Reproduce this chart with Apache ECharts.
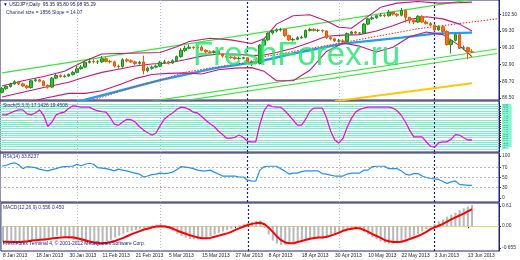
<!DOCTYPE html>
<html><head><meta charset="utf-8">
<script src="https://cdn.jsdelivr.net/npm/echarts@6/dist/echarts.min.js"></script>
<style>html,body{margin:0;padding:0;background:#fff}#c{width:520px;height:260px}</style>
</head><body><div id="c"></div>
<script>
const dates = ['8 Jan 2013','9 Jan 2013','10 Jan 2013','11 Jan 2013','14 Jan 2013','15 Jan 2013','16 Jan 2013','17 Jan 2013','18 Jan 2013','21 Jan 2013','22 Jan 2013','23 Jan 2013','24 Jan 2013','25 Jan 2013','28 Jan 2013','29 Jan 2013','30 Jan 2013','31 Jan 2013','1 Feb 2013','4 Feb 2013','5 Feb 2013','6 Feb 2013','7 Feb 2013','8 Feb 2013','11 Feb 2013','12 Feb 2013','13 Feb 2013','14 Feb 2013','15 Feb 2013','18 Feb 2013','19 Feb 2013','20 Feb 2013','21 Feb 2013','22 Feb 2013','25 Feb 2013','26 Feb 2013','27 Feb 2013','28 Feb 2013','1 Mar 2013','4 Mar 2013','5 Mar 2013','6 Mar 2013','7 Mar 2013','8 Mar 2013','11 Mar 2013','12 Mar 2013','13 Mar 2013','14 Mar 2013','15 Mar 2013','18 Mar 2013','19 Mar 2013','20 Mar 2013','21 Mar 2013','22 Mar 2013','25 Mar 2013','26 Mar 2013','27 Mar 2013','28 Mar 2013','29 Mar 2013','1 Apr 2013','2 Apr 2013','3 Apr 2013','4 Apr 2013','5 Apr 2013','8 Apr 2013','9 Apr 2013','10 Apr 2013','11 Apr 2013','12 Apr 2013','15 Apr 2013','16 Apr 2013','17 Apr 2013','18 Apr 2013','19 Apr 2013','22 Apr 2013','23 Apr 2013','24 Apr 2013','25 Apr 2013','26 Apr 2013','29 Apr 2013','30 Apr 2013','1 May 2013','2 May 2013','3 May 2013','6 May 2013','7 May 2013','8 May 2013','9 May 2013','10 May 2013','13 May 2013','14 May 2013','15 May 2013','16 May 2013','17 May 2013','20 May 2013','21 May 2013','22 May 2013','23 May 2013','24 May 2013','27 May 2013','28 May 2013','29 May 2013','30 May 2013','31 May 2013','3 Jun 2013','4 Jun 2013','5 Jun 2013','6 Jun 2013','7 Jun 2013','10 Jun 2013','11 Jun 2013','12 Jun 2013','13 Jun 2013','14 Jun 2013'];

const openP = [87.6,88.3,88.7,89.2,89.6,89.2,88.8,88.5,89.8,90.0,
89.7,88.9,88.6,90.3,90.8,90.6,90.7,91.0,91.4,92.1,
92.4,93.3,93.5,93.4,93.4,94.0,93.5,93.4,92.6,92.5,
93.8,93.6,93.4,93.1,93.4,91.7,92.2,92.4,92.6,93.3,
93.4,93.2,93.6,94.4,95.6,96.0,96.2,96.1,96.2,95.6,
95.3,95.2,95.4,94.9,94.5,94.3,94.2,94.0,94.1,94.2,
93.2,93.4,93.1,96.6,97.6,98.9,99.3,99.5,99.6,98.4,
97.6,97.7,98.0,98.1,99.4,99.6,99.4,99.4,99.3,98.0,
97.8,97.4,97.4,97.3,98.8,99.1,98.9,98.9,100.6,101.6,
101.8,102.2,102.3,102.2,102.9,102.5,102.3,103.2,101.9,101.3,
101.0,102.1,101.0,100.7,100.4,99.5,100.1,99.2,96.7,97.5,
98.6,96.0,96.1,95.35];
const highP = [88.6,89.0,89.4,89.9,89.7,89.4,89.0,90.0,90.3,90.2,
89.9,89.1,90.5,91.1,91.0,91.0,91.2,91.7,92.6,92.8,
93.5,94.0,93.9,93.7,94.5,94.4,93.8,93.6,92.9,94.1,
94.1,93.9,93.6,93.6,94.6,92.5,92.7,92.9,93.6,93.8,
93.6,93.9,94.6,96.0,96.5,96.7,96.4,96.4,96.5,95.8,
95.6,95.6,95.6,95.1,94.9,94.5,94.5,94.4,94.4,94.3,
93.6,93.7,96.8,97.8,99.0,99.4,99.8,99.9,99.7,98.6,
98.0,98.3,98.4,99.6,99.9,99.8,99.7,99.6,99.4,98.3,
98.0,97.8,97.7,99.0,99.3,99.3,99.1,100.8,101.8,102.1,
102.4,102.7,102.6,103.3,103.0,102.7,103.7,103.4,102.0,101.5,
102.3,102.3,101.3,101.0,100.6,100.4,100.3,99.4,97.8,98.8,
98.8,96.5,96.3,95.80];
const lowP = [87.4,88.1,88.5,89.0,89.0,88.6,88.2,88.3,89.6,89.5,
88.7,88.3,88.4,90.1,90.4,90.4,90.5,90.8,91.2,91.9,
92.2,93.1,93.1,93.0,93.2,93.3,93.1,92.3,92.1,92.3,
93.3,93.2,92.8,92.9,91.0,91.4,91.9,92.2,92.4,93.0,
92.9,93.0,93.4,94.2,95.3,95.8,95.8,95.8,95.4,95.0,
94.9,95.0,94.7,94.2,94.0,94.0,93.8,93.8,93.9,93.0,
92.6,92.9,92.9,96.2,97.4,98.6,99.0,99.2,98.2,97.4,
97.3,97.5,97.8,97.9,99.2,99.2,99.1,99.0,97.8,97.5,
97.2,97.1,97.0,97.1,98.6,98.6,98.6,98.8,100.4,101.4,
101.6,102.0,101.9,102.0,102.2,102.0,102.1,100.9,100.7,100.6,
100.8,100.8,100.5,100.2,99.3,99.3,98.9,96.5,95.0,97.3,
95.9,95.7,93.9,95.08];
const closeP = [88.3,88.7,89.2,89.6,89.2,88.8,88.5,89.8,90.0,89.7,
88.9,88.6,90.3,90.8,90.6,90.7,91.0,91.4,92.1,92.4,
93.3,93.5,93.4,93.4,94.0,93.5,93.4,92.6,92.5,93.8,
93.6,93.4,93.1,93.3,91.7,92.2,92.4,92.6,93.3,93.4,
93.2,93.6,94.4,95.6,96.0,96.2,96.1,96.2,95.6,95.3,
95.2,95.4,94.9,94.5,94.3,94.2,94.0,94.1,94.2,93.2,
93.4,93.1,96.6,97.6,98.9,99.3,99.5,99.6,98.4,97.6,
97.7,98.0,98.1,99.4,99.6,99.4,99.4,99.3,98.0,97.8,
97.4,97.4,97.3,98.8,99.1,98.9,98.9,100.6,101.6,101.8,
102.2,102.3,102.2,102.9,102.5,102.3,103.2,101.9,101.3,101.0,
102.1,101.0,100.7,100.4,99.5,100.1,99.2,96.7,97.5,98.6,
96.0,96.1,95.3,95.29];

// overlay lines: [bar index, price]
const bbUpper = [[0,88.8],[5,89.8],[10,90.6],[15,91.6],[20,93.6],[24,94.9],[28,95.0],[33,95.1],[38,95.2],[42,96.3],[45,97.3],[50,97.9],[55,97.6],[60,96.9],[63,97.8],[66,100.6],[70,102.2],[74,102.4],[78,101.2],[81,100.0],[84,99.8],[87,101.5],[91,103.8],[95,104.6],[100,104.9],[105,104.6],[110,104.7],[113,104.8]];
const bbMiddle = [[0,86.7],[5,87.6],[10,88.5],[16,89.5],[20,90.5],[24,91.4],[28,92.0],[32,92.6],[36,93.0],[40,93.2],[44,93.8],[48,94.5],[52,94.9],[56,94.9],[60,94.6],[63,94.7],[66,95.2],[70,96.0],[74,97.1],[78,98.3],[82,98.5],[86,98.6],[90,99.3],[94,100.3],[98,101.5],[102,102.0],[106,101.6],[110,100.6],[113,99.3]];
const bbLower = [[0,84.6],[5,85.4],[10,86.4],[16,87.4],[20,87.4],[24,87.9],[28,89.0],[32,90.2],[36,91.0],[40,91.2],[44,91.3],[48,91.1],[52,91.9],[56,92.2],[60,92.3],[63,91.6],[66,89.8],[70,89.8],[74,91.8],[78,95.4],[82,97.0],[86,96.4],[90,95.3],[94,96.2],[98,98.2],[102,99.1],[106,98.6],[110,96.5],[113,94.4]];
const chanTop = [[0,91.29],[119,106.05]];
const chanBottom = [[30,85.19],[119,95.85]];
const chanBottom2 = [[30,84.34],[119,95.0]];
const yellowLine = [[80,85.9],[113,89.34]];
const blueMA = [[18,85.75],[38,89.91],[51,92.17],[62,93.5],[70,95.0],[82,96.89],[96,98.03],[104,98.78],[113,98.97]];
const redDotted = [[22,86.13],[33,88.96],[38,89.91],[44,91.42],[51,92.36],[59,93.31],[62,94.25],[82,97.08],[100,99.72],[119,101.61]];

const stoch = [76,76,80,84,87,87,78,76,80,87,
75,50,60,76,80,82,90,96,95,93,
93,93,88,85,83,82,70,55,53,60,
66,65,60,50,42,36,31,35,52,66,
74,80,88,93,92,88,82,80,72,64,
56,50,40,32,24,24,26,31,26,17,
16,16,55,85,98,94,93,93,85,75,
64,53,53,66,84,91,91,91,70,40,
20,13,24,49,68,82,88,91,93,93,
93,93,93,93,91,85,75,60,42,27,
27,27,16,6,4,14,16,16,22,32,
31,25,20,20];
const rsi = [73,75,78,80,76,68,72,71,70,67,
65,63.5,66,68,71,72,73,73,77,74,
77,79,77,70,69,68,66,63.5,67,65,
63.5,61,59,57,51,53,56,57,59,58,
59,61,66,72,71,70,68,65,63.5,63.5,
65,61,57,53,53,53,53,51,51,44.5,
43,42.4,65,72,73,73,73,68,63,57,
59,59,62,63.5,63.5,63.5,63.5,58,57,55,
53,53,53,57,59,59,59,65,65,72,
73,73,73,68,68,68,63.5,57,55,58,
58,53,50,48,47,46,42,38,41,43,
36,35,34,33.8];
const macdMain = [-0.42,-0.43,-0.43,-0.42,-0.40,-0.41,-0.40,-0.38,-0.36,-0.37,
-0.38,-0.35,-0.28,-0.25,-0.26,-0.28,-0.33,-0.36,-0.38,-0.40,
-0.43,-0.45,-0.46,-0.45,-0.43,-0.40,-0.36,-0.30,-0.25,-0.20,
-0.16,-0.13,-0.10,-0.07,-0.05,-0.03,0.02,0.04,0.05,0.02,
-0.06,-0.12,-0.20,-0.26,-0.30,-0.34,-0.35,-0.35,-0.33,-0.30,
-0.26,-0.22,-0.18,-0.14,-0.10,-0.07,-0.02,0.02,0.05,0.08,
0.11,0.14,0.15,-0.05,-0.22,-0.38,-0.46,-0.50,-0.49,-0.46,
-0.43,-0.40,-0.36,-0.33,-0.31,-0.30,-0.31,-0.33,-0.31,-0.27,
-0.22,-0.17,-0.12,-0.08,-0.06,-0.05,-0.06,-0.15,-0.22,-0.29,
-0.35,-0.40,-0.44,-0.46,-0.46,-0.45,-0.42,-0.36,-0.30,-0.25,
-0.20,-0.14,-0.08,-0.04,0.06,0.12,0.17,0.25,0.30,0.35,
0.42,0.47,0.52,0.556];
const macdSignal = [-0.41,-0.41,-0.42,-0.42,-0.42,-0.41,-0.40,-0.38,-0.37,-0.36,
-0.35,-0.34,-0.32,-0.31,-0.30,-0.29,-0.29,-0.30,-0.32,-0.35,
-0.38,-0.41,-0.43,-0.45,-0.45,-0.44,-0.42,-0.39,-0.35,-0.31,
-0.26,-0.21,-0.17,-0.13,-0.09,-0.06,-0.03,-0.01,0.00,-0.01,
-0.03,-0.07,-0.12,-0.16,-0.20,-0.24,-0.27,-0.30,-0.32,-0.32,
-0.31,-0.28,-0.25,-0.22,-0.19,-0.15,-0.10,-0.05,-0.01,0.03,
0.06,0.08,0.09,0.05,-0.04,-0.15,-0.27,-0.37,-0.43,-0.45,
-0.45,-0.42,-0.39,-0.36,-0.33,-0.31,-0.30,-0.30,-0.28,-0.25,
-0.21,-0.17,-0.12,-0.09,-0.07,-0.05,-0.06,-0.10,-0.15,-0.21,
-0.26,-0.31,-0.37,-0.40,-0.42,-0.42,-0.41,-0.38,-0.34,-0.30,
-0.26,-0.21,-0.15,-0.08,-0.03,0.01,0.06,0.12,0.18,0.23,
0.28,0.33,0.39,0.45];

const priceTicks = [102.5, 99.3, 96.1, 92.9, 89.7, 86.5];
const stochLevels = [0,5,10,15,20,25,30,35,40,45,50,55,60,65,70,75,80,85,90,95,100];
const rsiLevels = [70, 50, 30];
const rsiTickLabels = {94:'100', 70:'70', 50:'50', 30:'30', 8:'0'};
const macdTickLabels = {0.53:'0.61', 0:'0.00', '-0.58':'-0.655'};
const lastPrice = 95.29;
const dottedSeps = [18, 38, 81];
const dashedSeps = [59, 104];

const cats = dates.concat(['_a','_b','_c','_d','_e','_f']);
const NAVY = '#24246e';
const FF = '"Liberation Sans", Arial, sans-serif';
const FS = 4.9;

const gridPos = [
  {top:-1, height:101},
  {top:101, height:51},
  {top:153, height:49},
  {top:203, height:48}
];
const grid = gridPos.map(g => ({left:0, right:21, top:g.top, height:g.height, show:true, borderColor:NAVY, borderWidth:1, backgroundColor:'transparent'}));

const xAxis = gridPos.map((g,i) => ({
  type:'category', gridIndex:i, data:cats, boundaryGap:true,
  axisLine:{show:i===3, lineStyle:{color:NAVY}},
  axisTick:{show:i===3, interval:7, alignWithLabel:true, length:2, lineStyle:{color:NAVY}},
  axisLabel:{show:i===3, interval:7, align:'left', fontSize:FS, fontFamily:FF, color:'#1c1c3c', margin:2,
    formatter: v => v.charAt(0)==='_' ? '' : v},
  splitLine:{show:false}
}));

function yAx(i, min, max, vals, fmt) {
  return {
    type:'value', gridIndex:i, position:'right', min:min, max:max,
    splitLine:{show:false},
    axisLine:{show:true, lineStyle:{color:NAVY}},
    axisTick:{show:true, length:2, customValues:vals, lineStyle:{color:NAVY}},
    axisLabel:{customValues:vals, formatter:fmt, fontSize:FS, fontFamily:FF, color:'#30304a', margin:3}
  };
}
const yAxis = [
  yAx(0, 86.13, 105.2, priceTicks, v => v.toFixed(2)),
  yAx(1, -6.7, 106.7, stochLevels, v => String(v)),
  yAx(2, 0, 100, [94,70,50,30,8], v => rsiTickLabels[v]),
  yAx(3, -0.655, 0.61, [0.53,0,-0.58], v => macdTickLabels[String(v)])
];
yAxis[1].axisLabel.backgroundColor = '#86f5d2';
yAxis[1].axisLabel.color = '#4aa58a';
yAxis[1].axisLabel.padding = [0,3,0,1];

function sepLines() {
  return dottedSeps.map(i => ({xAxis:i, lineStyle:{color:'#b8b8e0', type:[1,2], width:1}}))
    .concat(dashedSeps.map(i => ({xAxis:i, lineStyle:{color:'#1e1e80', type:[2,2], width:1.2}})));
}
function ml(data, z) {
  return {silent:true, symbol:'none', animation:false, label:{show:false}, z:z, data:data};
}
function ln(name, data, color, width, type, z) {
  return {name:name, type:'line', xAxisIndex:0, yAxisIndex:0, data:data, symbol:'none',
    lineStyle:{color:color, width:width, type:type||'solid'}, z:z||3, animation:false, silent:true};
}
// empty carrier series for level / separator lines drawn under the indicator lines
function carrier(ix, lines) {
  return {type:'line', xAxisIndex:ix, yAxisIndex:ix, data:[], symbol:'none', z:1, animation:false, silent:true,
    markLine: ml(lines, 1)};
}

const candleData = dates.map((d,i) => [openP[i], closeP[i], lowP[i], highP[i]]);

const series = [
  carrier(0, sepLines()),
  ln('chanTop', chanTop, '#39e639', 1.2),
  ln('chanBottom', chanBottom, '#39e639', 1.2),
  ln('chanBottom2', chanBottom2, '#39e639', 1.2),
  ln('yellow', yellowLine, '#ffc800', 2),
  ln('blueMA', blueMA, '#1ea0f0', 2.4),
  ln('redDotted', redDotted, '#ff2020', 1, [1.5,1.5]),
  ln('bbUpper', bbUpper, '#c4187c', 1.1),
  ln('bbMiddle', bbMiddle, '#c4187c', 1.1),
  ln('bbLower', bbLower, '#c4187c', 1.1),
  {type:'candlestick', xAxisIndex:0, yAxisIndex:0, data:candleData, barWidth:3, z:5, animation:false,
    itemStyle:{color:'#2fbf2f', color0:'#ff6a10', borderColor:'#1f8f1f', borderColor0:'#e85a00', borderWidth:1},
    markLine: ml([{yAxis:lastPrice, lineStyle:{opacity:0},
      label:{show:true, position:'end', distance:1, formatter:lastPrice.toFixed(2), backgroundColor:'#1c1c6c', color:'#ffffff', fontSize:FS, fontFamily:FF, padding:[1,2]}}], 60)
  },
  carrier(1, stochLevels.map(v => ({yAxis:v, lineStyle:{color:'#78f0c8', width:1, type:'solid'}})).concat(sepLines())),
  {type:'line', xAxisIndex:1, yAxisIndex:1, data:stoch, symbol:'none', lineStyle:{color:'#ff00ff', width:1.3}, z:4, animation:false},
  carrier(2, rsiLevels.map(v => ({yAxis:v, lineStyle:{color:'#b4b4b4', width:1, type:[2,2]}})).concat(sepLines())),
  {type:'line', xAxisIndex:2, yAxisIndex:2, data:rsi, symbol:'none', lineStyle:{color:'#1e90ff', width:1.2}, z:4, animation:false},
  carrier(3, [{yAxis:0, lineStyle:{color:'#e8d27a', width:1, type:'solid'}}].concat(sepLines())),
  {type:'bar', xAxisIndex:3, yAxisIndex:3, data:macdMain, barWidth:2, itemStyle:{color:'#b8b8b8'}, z:3, animation:false},
  {type:'line', xAxisIndex:3, yAxisIndex:3, data:macdSignal, symbol:'none', lineStyle:{color:'#ff0000', width:2}, z:4, animation:false}
];

const txt = (x, y, s, color) => ({type:'text', left:x, top:y, z:100, silent:true,
  style:{text:s, font:FS + 'px ' + FF, fill:color}});

const option = {
  animation:false,
  backgroundColor:'#ffffff',
  grid:grid, xAxis:xAxis, yAxis:yAxis, series:series,
  graphic:[
    {type:'text', left:193, top:39, z:50, silent:true,
      style:{text:'FreshForex.ru', font:'33px ' + FF, fill:'rgba(34,235,110,0.85)'}},
    txt(3, 2, '\u25BC USDJPY,Daily  95.35 95.80 95.08 95.29', '#1a1a3a'),
    txt(6, 10, 'Channel size = 1856 Slope = 14.07', '#2a2a8a'),
    txt(3, 103, 'Stoch(5,3,3) 17.1426 19.4508', '#30308a'),
    txt(3, 154, 'RSI(14) 33.8237', '#30308a'),
    txt(3, 205, 'MACD(12,26,9) 0.556 0.450', '#30308a'),
    txt(3, 241, 'FreshForex Terminal 4, \u00A9 2001-2012 MetaQuotes Software Corp.', '#1a1a80')
  ]
};
const chart = echarts.init(document.getElementById('c'), null, {renderer:'canvas'});
chart.setOption(option);
</script>
</body></html>
